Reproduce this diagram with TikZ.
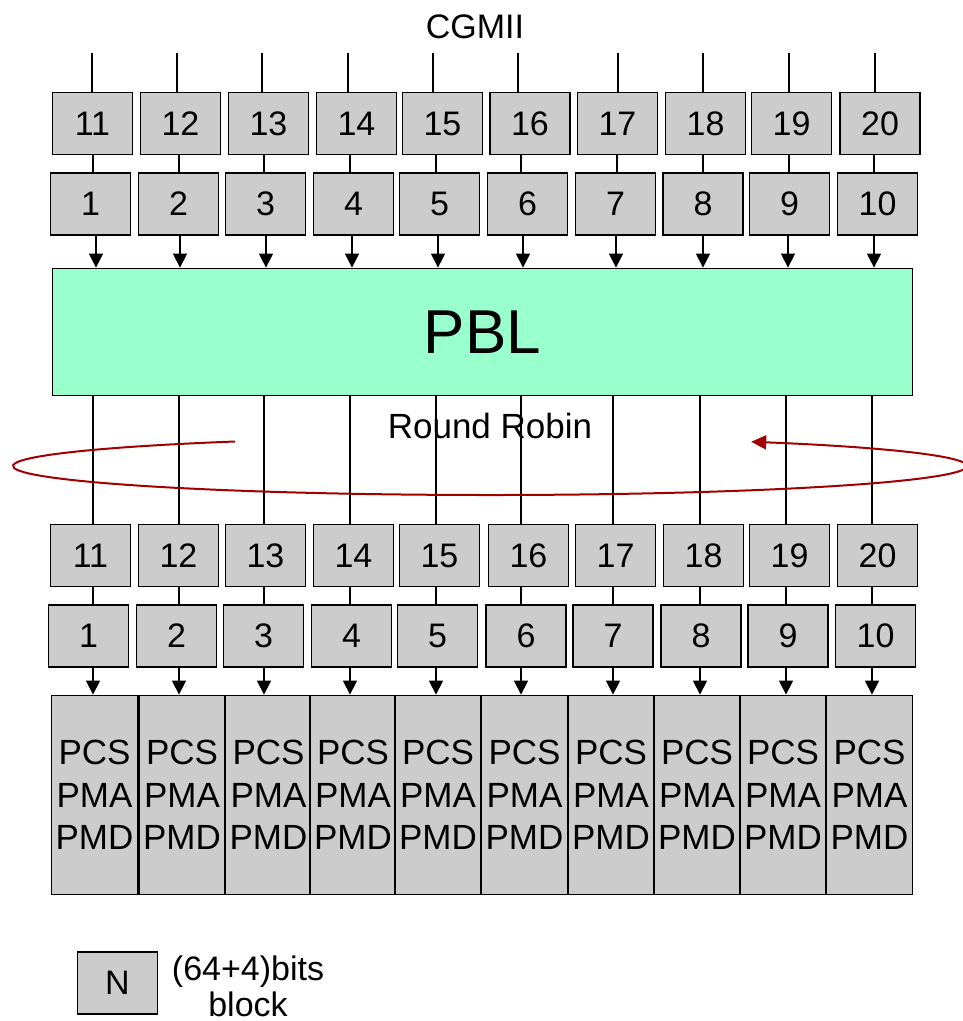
\documentclass[tikz,border=0pt]{standalone}
\usepackage{fontspec}
\setmainfont{Liberation Sans}
\usetikzlibrary{arrows.meta}
\definecolor{boxgray}{HTML}{CCCCCC}
\definecolor{pblgreen}{HTML}{99FFCC}
\definecolor{rrred}{HTML}{A00000}
\begin{document}
\begin{tikzpicture}[x=1pt,y=-1pt,
  numbox/.style={draw, line width=1.8pt, fill=boxgray, minimum width=80pt, minimum height=62pt, inner sep=0pt, font=\fontsize{34}{38}\selectfont},
  pcsbox/.style={draw, line width=1.8pt, fill=boxgray, minimum width=86pt, minimum height=199pt, inner sep=0pt, align=center, font=\fontsize{35}{42.5}\selectfont},
  pblbox/.style={draw, line width=1.8pt, fill=pblgreen, minimum width=860pt, minimum height=127pt, inner sep=0pt, font=\fontsize{62}{70}\selectfont},
  lbl/.style={inner sep=0pt, font=\fontsize{34}{38}\selectfont},
  ln/.style={line width=1.3pt},
  arr/.style={line width=1.3pt, -{Triangle[length=14pt,width=14pt]}},
  rr/.style={draw=rrred, line width=2pt, -{Triangle[length=15pt,width=14pt]}}]
\useasboundingbox (0,0) rectangle (963,1021);

% top title
\node[lbl] (cgmii) at (475,27) {CGMII};

% top rows
\foreach \i/\lab/\x in {1/11/92.5,2/12/180.5,3/13/268.5,4/14/356.5,5/15/442.5,6/16/530,7/17/617.5,8/18/705.5,9/19/791.5,10/20/880}
  \node[numbox] (a\i) at (\x,123.5) {\lab};
\foreach \i/\x in {1/90.5,2/178.5,3/265.5,4/353.5,5/439.5,6/527.5,7/615.5,8/703,9/789.5,10/877.5}
  \node[numbox] (b\i) at (\x,204) {\i};

% PBL
\node[pblbox] (pbl) at (482.5,332) {PBL};

% lower rows
\foreach \i/\lab/\x in {1/11/90.5,2/12/178.5,3/13/265.5,4/14/353.5,5/15/439.5,6/16/528.5,7/17/615.5,8/18/703.5,9/19/789.5,10/20/877.5}
  \node[numbox] (c\i) at (\x,555.5) {\lab};
\foreach \i/\x in {1/88.5,2/176.5,3/263.5,4/351.5,5/437.5,6/526,7/613,8/701,9/788,10/875.5}
  \node[numbox] (d\i) at (\x,636) {\i};

% PCS blocks
\foreach \i/\x in {1/94.5,2/182,3/268.5,4/353,5/438,6/524.5,7/611,8/697,9/783,10/869.5}
  \node[pcsbox] (p\i) at (\x,795) {PCS\\PMA\\PMD};

% input lines
\foreach \i/\x in {1/92,2/177,3/262,4/348,5/433,6/518,7/618,8/703,9/789,10/875}{
  \coordinate (in\i) at (\x,53);
  \draw[ln] (in\i) -- (in\i |- a\i.north);
}
% a -> b
\foreach \i/\x in {1/93,2/179,3/264,4/350,5/436,6/521,7/617,8/703,9/789,10/874}
  \draw[ln] (a\i.south -| \x,0) -- (b\i.north -| \x,0);
% b -> pbl
\foreach \i/\x in {1/96,2/180,3/266,4/352,5/438,6/523,7/616,8/703,9/788,10/874}
  \draw[arr] (b\i.south -| \x,0) -- (pbl.north -| \x,0);
% pbl -> c, c -> d, d -> pcs
\foreach \i/\x in {1/93,2/179,3/264,4/350,5/436,6/521,7/613,8/700,9/786,10/872}{
  \draw[ln] (pbl.south -| \x,0) -- (c\i.north -| \x,0);
  \draw[ln] (c\i.south -| \x,0) -- (d\i.north -| \x,0);
  \draw[arr] (d\i.south -| \x,0) -- (p\i.north -| \x,0);
}

% round robin
\node[lbl, font=\fontsize{35}{38}\selectfont] (rrlabel) at (490,426) {Round Robin};
\coordinate (rrc) at (490,466);
\draw[rr] (rrc) ++(122.3:477pt and 29pt) arc[start angle=122.3, end angle=416.8, x radius=477pt, y radius=29pt];

% legend
\node[numbox] (leg) at (117.5,983) {N};
\node[lbl, align=center, font=\fontsize{34}{36}\selectfont] (legtext) at (248,986) {(64+4)bits\\block};
\end{tikzpicture}
\end{document}
